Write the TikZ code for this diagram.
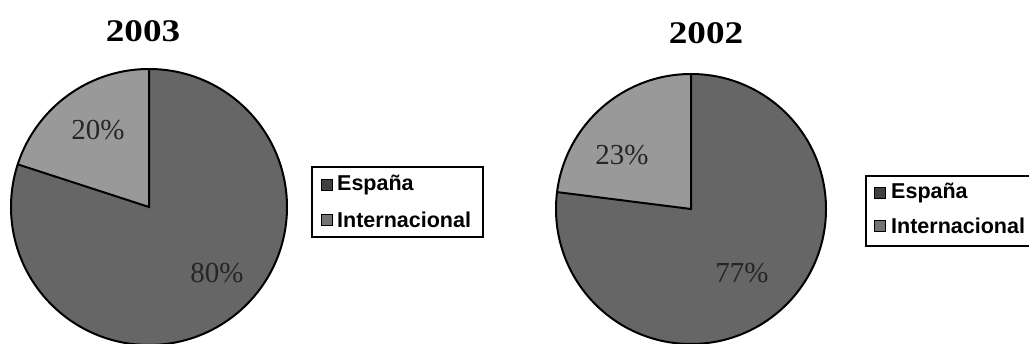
\documentclass[tikz,border=0pt]{standalone}
\usepackage{fontspec}
\usetikzlibrary{calc}
\setmainfont{Liberation Serif}
\newfontfamily\legfont{Liberation Sans}
\definecolor{espcol}{gray}{0.40}
\definecolor{intcol}{gray}{0.60}
\tikzset{
  pieline/.style={draw=black, line width=2pt},
  titlelbl/.style={font=\fontsize{31.5}{31.5}\selectfont\bfseries, inner sep=0pt},
  pctlbl/.style={font=\fontsize{29}{29}\selectfont, text=black!85, inner sep=0pt},
  legbox/.style={draw=black, line width=1.6pt, fill=white},
  legmark/.style={draw=black, line width=0.8pt, minimum size=11pt, inner sep=0pt},
  legtext/.style={font=\legfont\fontsize{21.5}{21.5}\selectfont\bfseries, inner sep=0pt, anchor=west}
}
\begin{document}
\begin{tikzpicture}[x=1pt,y=1pt]
\useasboundingbox (0,0) rectangle (1029,343);
\clip (0,0) rectangle (1029,343);
\fill[white] (0,0) rectangle (1029,343);

% ---- Pie 2003 ----
\coordinate (c1) at (149,136);
\fill[espcol] (c1) -- ++(162:138) arc[start angle=162,end angle=450,radius=138] -- cycle;
\fill[intcol] (c1) -- ++(90:138) arc[start angle=90,end angle=162,radius=138] -- cycle;
\draw[pieline] (c1) circle[radius=138];
\coordinate (c1top) at ($(c1)+(90:138)$);
\coordinate (c1cut) at ($(c1)+(162:138)$);
\draw[pieline] (c1top) -- (c1) -- (c1cut);
\node[titlelbl] (t1) at (143,312) {\scalebox{1.18}[1]{2003}};
\node[pctlbl] (p1a) at (98,213) {20\%};
\node[pctlbl] (p1b) at (217,70) {80\%};

% legend 1
\node[legbox, minimum width=171pt, minimum height=70pt, anchor=north west] (lg1) at (311,177) {};
\node[legmark, fill=black!75] (m1a) at (327,158) {};
\node[legmark, fill=black!55] (m1b) at (327,123) {};
\node[legtext] (l1a) at (337,158) {España};
\node[legtext] (l1b) at (337,123) {Internacional};

% ---- Pie 2002 ----
\coordinate (c2) at (691,134);
\fill[espcol] (c2) -- ++(172.8:135) arc[start angle=172.8,end angle=450,radius=135] -- cycle;
\fill[intcol] (c2) -- ++(90:135) arc[start angle=90,end angle=172.8,radius=135] -- cycle;
\draw[pieline] (c2) circle[radius=135];
\coordinate (c2top) at ($(c2)+(90:135)$);
\coordinate (c2cut) at ($(c2)+(172.8:135)$);
\draw[pieline] (c2top) -- (c2) -- (c2cut);
\node[titlelbl] (t2) at (706,310) {\scalebox{1.18}[1]{2002}};
\node[pctlbl] (p2a) at (622,188) {23\%};
\node[pctlbl] (p2b) at (742,70) {77\%};

% legend 2
\node[legbox, minimum width=171pt, minimum height=70pt, anchor=north west] (lg2) at (865,168) {};
\node[legmark, fill=black!75] (m2a) at (879.5,150) {};
\node[legmark, fill=black!55] (m2b) at (879.5,117) {};
\node[legtext] (l2a) at (891,150) {España};
\node[legtext] (l2b) at (891,117) {Internacional};
\end{tikzpicture}
\end{document}
